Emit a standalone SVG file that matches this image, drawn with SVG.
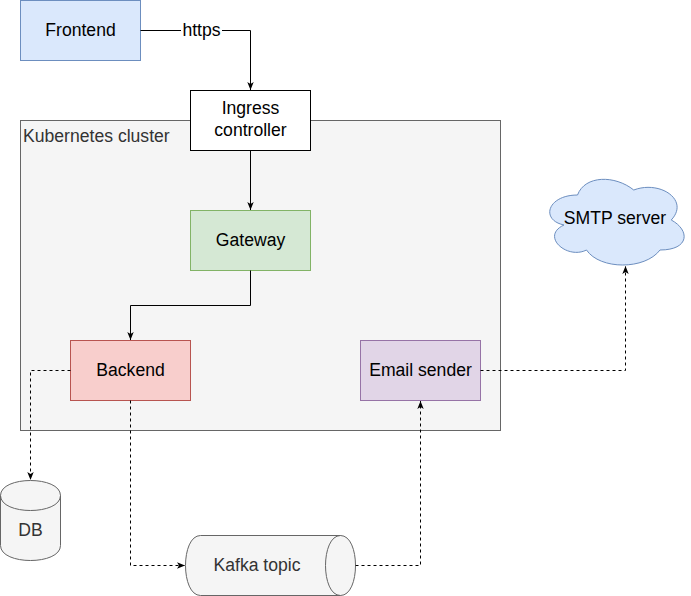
<svg xmlns="http://www.w3.org/2000/svg" width="691" height="596" viewBox="0 0 691 596">
<defs>
<marker id="arr" viewBox="0 0 10 10" refX="10" refY="5" markerWidth="8" markerHeight="8" markerUnits="userSpaceOnUse" orient="auto">
<path d="M0,1 L10,5 L0,9 L2.5,5 Z" fill="#000"/>
</marker>
<style>
text{font-family:"Liberation Sans",Arial,sans-serif;font-size:17.6px;text-anchor:middle;fill:#000}
.g{fill:#333333}
.edge{fill:none;stroke:#000;stroke-width:1;marker-end:url(#arr)}
.dash{stroke-dasharray:3 3}
</style>
</defs>
<rect width="691" height="596" fill="#fff"/>
<g id="cluster">
<rect x="20.5" y="120.5" width="480" height="310" fill="#f5f5f5" stroke="#666666"/>
<text x="23" y="142" class="g" style="text-anchor:start">Kubernetes cluster</text>
</g>
<g id="frontend">
<rect x="20.5" y="0.5" width="120" height="60" fill="#dae8fc" stroke="#6c8ebf"/>
<text x="80.5" y="36">Frontend</text>
</g>
<g id="ingress">
<rect x="190.5" y="90.5" width="120" height="60" fill="#fff" stroke="#000"/>
<text x="250.5" y="114">Ingress</text>
<text x="250.5" y="136">controller</text>
</g>
<g id="gateway">
<rect x="190.5" y="210.5" width="120" height="60" fill="#d5e8d4" stroke="#82b366"/>
<text x="250.5" y="246">Gateway</text>
</g>
<g id="backend">
<rect x="70.5" y="340.5" width="120" height="60" fill="#f8cecc" stroke="#b85450"/>
<text x="130.5" y="376">Backend</text>
</g>
<g id="email">
<rect x="360.5" y="340.5" width="120" height="60" fill="#e1d5e7" stroke="#9673a6"/>
<text x="420.5" y="376">Email sender</text>
</g>
<g id="smtp">
<path d="M577.5,195 C547.5,195 540,220 564,225 C540,236 567,260 586.5,250 C600,270 645,270 660,250 C690,250 690,230 671.25,220 C690,200 660,180 633.75,190 C615,175 585,175 577.5,195 Z" fill="#dae8fc" stroke="#6c8ebf"/>
<text x="615" y="224">SMTP server</text>
</g>
<g id="db">
<path d="M0.5,495.5 C0.5,475.5 60.5,475.5 60.5,495.5 L60.5,545.5 C60.5,565.5 0.5,565.5 0.5,545.5 Z" fill="#f5f5f5" stroke="#666666"/>
<path d="M0.5,495.5 C0.5,515.5 60.5,515.5 60.5,495.5" fill="none" stroke="#666666"/>
<text x="30.5" y="536" class="g">DB</text>
</g>
<g id="kafka">
<path d="M200.5,535.5 L340.5,535.5 C360.5,535.5 360.5,595.5 340.5,595.5 L200.5,595.5 C180.5,595.5 180.5,535.5 200.5,535.5 Z" fill="#f5f5f5" stroke="#666666"/>
<path d="M340.5,535.5 C320.5,535.5 320.5,595.5 340.5,595.5" fill="none" stroke="#666666"/>
<text x="257" y="571" class="g">Kafka topic</text>
</g>
<g id="connectors">
<path class="edge" d="M140.5,30.5 L250.5,30.5 L250.5,90"/>
<rect x="181" y="20" width="41" height="20" fill="#fff"/>
<text x="201.5" y="36">https</text>
<path class="edge" d="M250.5,150.5 L250.5,210"/>
<path class="edge" d="M250.5,270.5 L250.5,305.5 L130.5,305.5 L130.5,340"/>
<path class="edge dash" d="M70.5,370.5 L30.5,370.5 L30.5,480"/>
<path class="edge dash" d="M130.5,400.5 L130.5,565.5 L185,565.5"/>
<path class="edge dash" d="M355.5,565.5 L420.5,565.5 L420.5,401"/>
<path class="edge dash" d="M480.5,370.5 L625.5,370.5 L625.5,266"/>
</g>
</svg>
